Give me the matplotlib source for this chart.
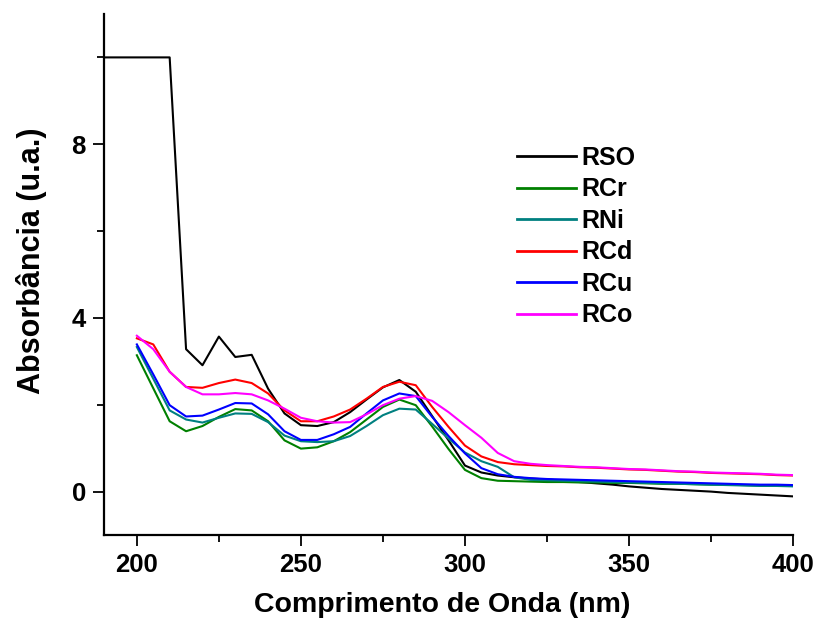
import numpy as np
import matplotlib
matplotlib.use("Agg")
import matplotlib.pyplot as plt
from matplotlib.ticker import MultipleLocator

# UV-Vis spectra, sampled every 5 nm from 200 to 400 nm
wavelength = list(range(200, 405, 5))

# RSO saturates the detector below ~210 nm, the trace starts at 190 nm
rso_wavelength = [190, 195] + wavelength
rso = [10.0, 10.0,
       10.0, 10.0, 10.0, 3.28, 2.91, 3.57, 3.10, 3.15, 2.37, 1.80,
       1.53, 1.51, 1.60, 1.83, 2.12, 2.40, 2.57, 2.30, 1.74, 1.18,
       0.60, 0.44, 0.37, 0.33, 0.30, 0.28, 0.25, 0.22, 0.19, 0.16,
       0.12, 0.09, 0.06, 0.04, 0.02, 0.00, -0.03, -0.05, -0.07, -0.09,
       -0.11]

rcr = [3.14, 2.38, 1.62, 1.39, 1.51, 1.72, 1.90, 1.87, 1.62, 1.18,
       0.99, 1.02, 1.16, 1.37, 1.66, 1.95, 2.12, 1.99, 1.50, 0.98,
       0.50, 0.31, 0.25, 0.24, 0.23, 0.22, 0.22, 0.21, 0.21, 0.20,
       0.20, 0.19, 0.18, 0.18, 0.17, 0.16, 0.16, 0.15, 0.14, 0.14,
       0.13]

rni = [3.33, 2.60, 1.87, 1.66, 1.59, 1.70, 1.80, 1.79, 1.60, 1.29,
       1.16, 1.14, 1.16, 1.28, 1.51, 1.76, 1.91, 1.89, 1.56, 1.22,
       0.90, 0.70, 0.57, 0.33, 0.27, 0.26, 0.25, 0.24, 0.23, 0.22,
       0.21, 0.20, 0.19, 0.18, 0.17, 0.16, 0.15, 0.14, 0.13, 0.13,
       0.12]

rcd = [3.53, 3.39, 2.76, 2.41, 2.39, 2.50, 2.58, 2.50, 2.26, 1.87,
       1.62, 1.62, 1.73, 1.89, 2.14, 2.41, 2.53, 2.45, 1.95, 1.49,
       1.06, 0.81, 0.68, 0.63, 0.61, 0.59, 0.58, 0.56, 0.55, 0.53,
       0.51, 0.50, 0.48, 0.46, 0.45, 0.43, 0.42, 0.41, 0.40, 0.38,
       0.37]

rcu = [3.39, 2.70, 1.99, 1.73, 1.75, 1.89, 2.04, 2.03, 1.78, 1.39,
       1.19, 1.19, 1.32, 1.49, 1.80, 2.10, 2.26, 2.20, 1.72, 1.28,
       0.88, 0.54, 0.40, 0.34, 0.31, 0.29, 0.28, 0.27, 0.26, 0.25,
       0.24, 0.23, 0.22, 0.21, 0.20, 0.19, 0.18, 0.17, 0.16, 0.16,
       0.15]

rco = [3.59, 3.28, 2.76, 2.41, 2.24, 2.24, 2.27, 2.24, 2.10, 1.91,
       1.70, 1.62, 1.59, 1.60, 1.78, 1.99, 2.14, 2.20, 2.09, 1.83,
       1.53, 1.24, 0.89, 0.70, 0.64, 0.61, 0.59, 0.57, 0.56, 0.54,
       0.52, 0.51, 0.49, 0.47, 0.46, 0.44, 0.43, 0.42, 0.41, 0.39,
       0.38]

plt.rcParams["font.family"] = ["Liberation Sans", "DejaVu Sans"]
plt.rcParams["font.weight"] = "bold"

fig = plt.figure(figsize=(8.16, 6.24), dpi=100)
ax = fig.add_axes([0.1275, 0.1426, 0.8444, 0.835])

series = [
    (rso_wavelength, rso, "RSO", "#000000"),
    (wavelength, rcr, "RCr", "#008000"),
    (wavelength, rni, "RNi", "#008080"),
    (wavelength, rcd, "RCd", "#FF0000"),
    (wavelength, rcu, "RCu", "#0000FF"),
    (wavelength, rco, "RCo", "#FF00FF"),
]
for (xs, ys, name, color) in series:
    ax.plot(xs, ys, color=color, linewidth=1.5, label=name)

ax.set_xlim(190, 400)
ax.set_ylim(-1, 11)
ax.xaxis.set_major_locator(MultipleLocator(50))
ax.xaxis.set_minor_locator(MultipleLocator(25))
ax.yaxis.set_major_locator(MultipleLocator(4))
ax.yaxis.set_minor_locator(MultipleLocator(2))

for side in ("top", "right"):
    ax.spines[side].set_visible(False)
for side in ("left", "bottom"):
    ax.spines[side].set_linewidth(1.6)

ax.tick_params(which="major", direction="out", length=8, width=1.3,
               labelsize=18.5, pad=5)
ax.tick_params(which="minor", direction="out", length=5, width=1.3)
for label in ax.get_xticklabels() + ax.get_yticklabels():
    label.set_fontweight("bold")

ax.set_xlabel("Comprimento de Onda (nm)", fontsize=20.5, fontweight="bold")
ax.set_ylabel("Absorbância (u.a.)", fontsize=22, fontweight="bold")
# Origin placed both titles slightly off-centre
ax.xaxis.set_label_coords(0.4906, -0.11)
ax.yaxis.set_label_coords(-0.083, 0.526)

legend = ax.legend(loc="upper left", bbox_to_anchor=(0.567, 0.79),
                   frameon=False, handlelength=2.35,
                   handletextpad=0.2, labelspacing=0.3,
                   prop={"weight": "bold", "size": 18})
for line in legend.get_lines():
    line.set_linewidth(2.0)

fig.savefig("out.png", dpi=100, facecolor="white")
